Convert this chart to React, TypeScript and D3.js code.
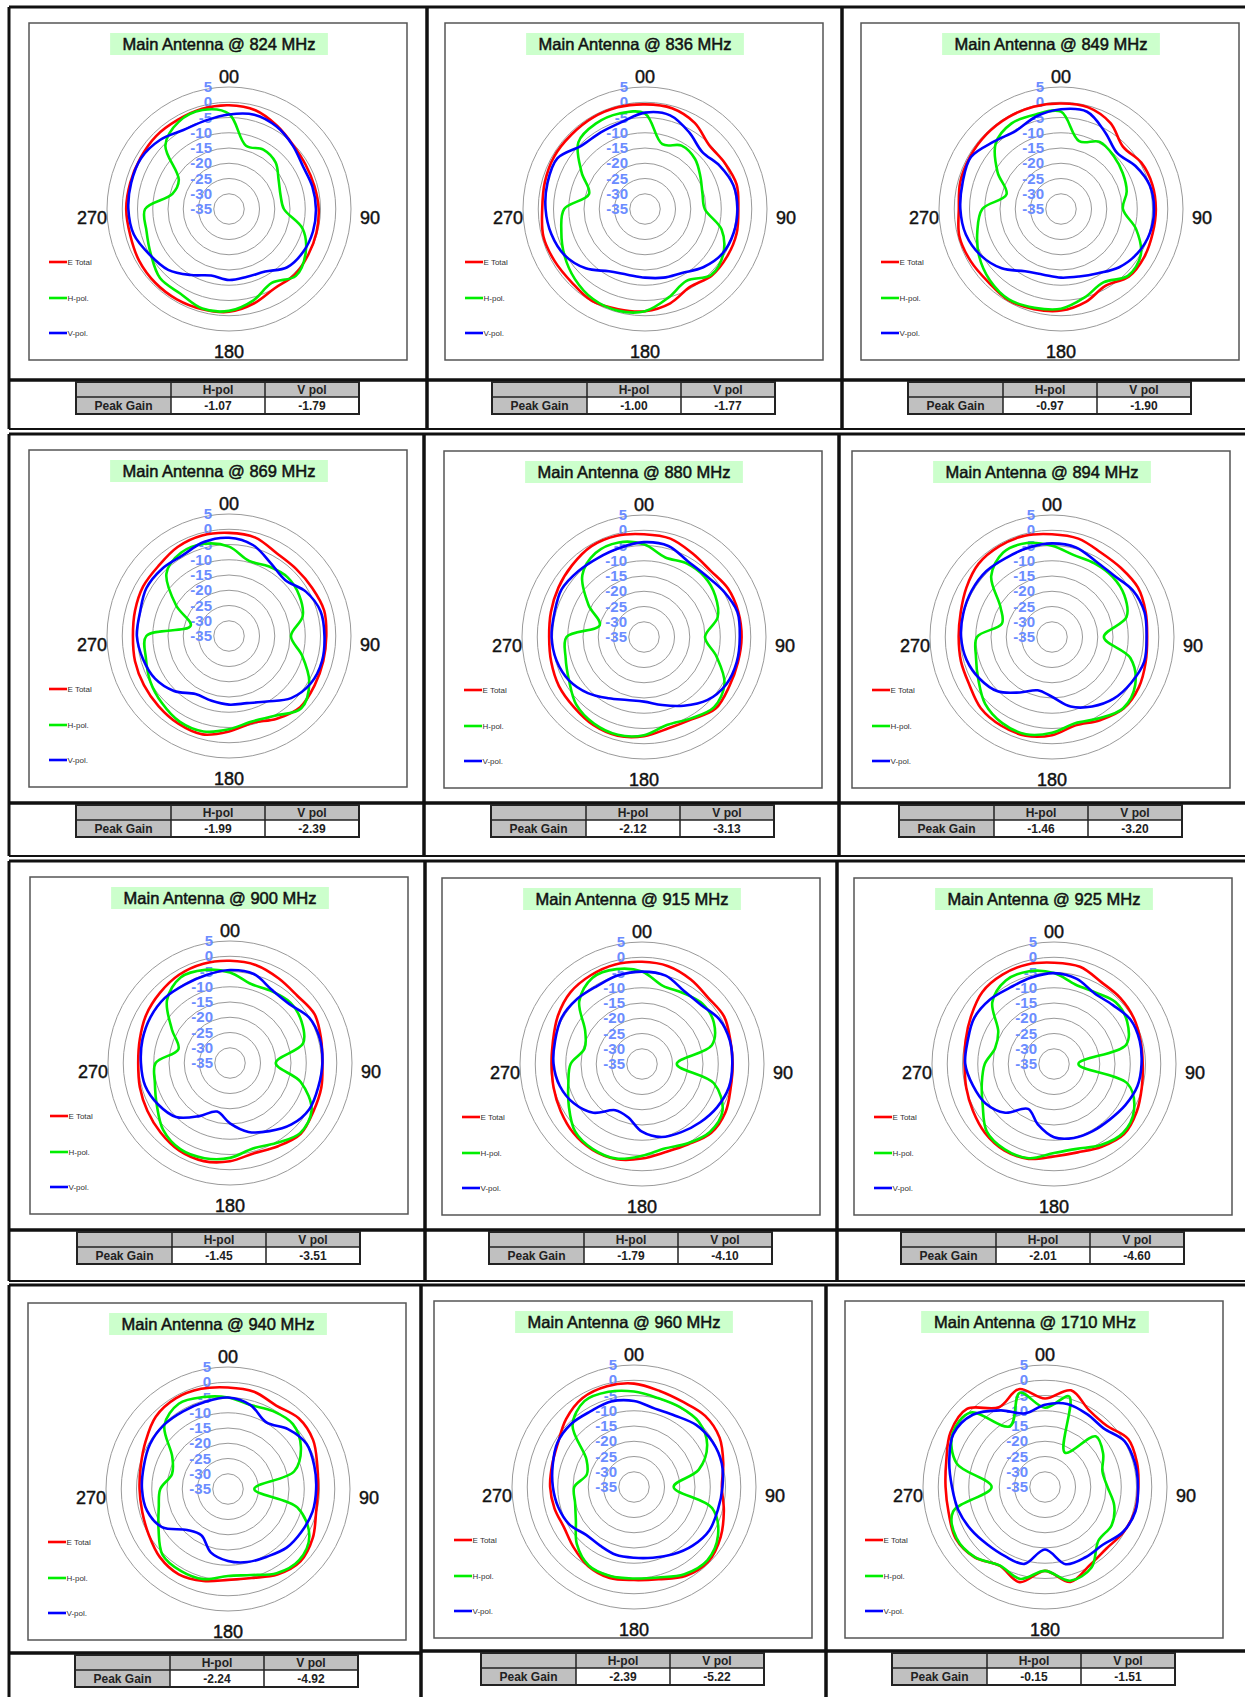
import React from 'react';
import * as d3 from 'd3';

// ---------- data ----------
const ANGLES = [0, 15, 30, 45, 60, 75, 90, 105, 120, 135, 150, 165, 180, 195, 210, 225, 240, 255, 270, 285, 300, 315, 330, 345];
const FREQS = [824, 836, 849, 869, 880, 894, 900, 915, 925, 940, 960, 1710];
const PEAK_H = [-1.07, -1.0, -0.97, -1.99, -2.12, -1.46, -1.45, -1.79, -2.01, -2.24, -2.39, -0.15];
const PEAK_V = [-1.79, -1.77, -1.9, -2.39, -3.13, -3.2, -3.51, -4.1, -4.6, -4.92, -5.22, -1.51];
const RING_TICKS = [5, 0, -5, -10, -15, -20, -25, -30, -35];
const RING_CIRCLES = [5, 0, -5, -10, -15, -20, -25, -30];
const SERIES_NAMES = ['E Total', 'H-pol.', 'V-pol.'];
const TABLE_HEAD = ['', 'H-pol', 'V pol'];
const ROW_LABEL = 'Peak Gain';

const e824 = [-1.0, -1.5, -3.5, -5.3, -6, -6, -5.6, -5.3, -5, -4.5, -5, -3, -1.3, -1, -0.8, -0.8, -1, -1.5, -1.3, -1.5, -1.5, -1.2, -1.3, -1];
const h824 = [-3.8, -13.5, -12.5, -13.4, -16.2, -17.5, -17, -10, -6, -4, -7, -4, -1.6, -1.2, -3, -3, -5.4, -7, -7.5, -15.8, -16, -5.5, -2, -1.4];
const v824 = [-4, -3, -3.8, -5.5, -7, -6.7, -6.5, -6.5, -6.9, -8, -11.3, -12, -11.7, -12.4, -10, -6.8, -5, -2.7, -2, -1.8, -1.7, -3, -5.1, -5];

const e836 = [-0.7, -0.8, -2.4, -5.3, -4.8, -3.9, -4.4, -3.9, -3.9, -4.1, -5.5, -3, -1.5, -1, -0.2, -1, -0.8, -0.5, -1.3, -1, -0.6, -0.7, -0.5, -0.5];
const h836 = [-3.7, -13, -11, -11.8, -14, -15.5, -15.4, -9, -5.4, -4.4, -7.8, -5, -1.5, -0.5, -0.9, -2.5, -4.5, -6.6, -8.5, -16, -11, -4.1, -2.7, -2.6];
const v836 = [-3.4, -3.2, -6, -8.5, -6.7, -5, -4.7, -4.9, -5.7, -8, -10.8, -11.7, -12.5, -12.7, -11.4, -7.5, -4.6, -3.2, -2.4, -1.9, -1.8, -5.6, -6, -5.5];

const e849 = [-0.4, -0.5, -2.5, -6.2, -4.6, -4, -3.9, -3.9, -3.5, -3.6, -5.9, -3.5, -1.7, -1, -0.5, -1.2, -0.8, -0.5, -1.5, -0.8, -0.6, -0.4, -0.3, -0.3];
const h849 = [-3.1, -12, -9.6, -10.5, -11.6, -12.7, -14.7, -9.5, -4.8, -4, -7.2, -5, -2.3, -1.5, -0.8, -2, -4, -6.6, -9.2, -16.5, -11, -4.7, -2.6, -2.9];
const v849 = [-2.3, -2, -6, -9, -6.8, -4.9, -4.5, -4.8, -6, -8, -10.7, -12.1, -12.5, -12.7, -11.4, -7.5, -4.6, -2.7, -2, -1.6, -0.9, -3.8, -5.4, -3.6];

const e869 = [-1.2, -1.6, -3.7, -3.9, -3.5, -2.7, -3.1, -3, -2.6, -2, -3.7, -5.5, -3.7, -1.6, -1.8, -2.4, -2.8, -3.1, -3.5, -3.1, -2.5, -2.4, -1.3, -0.9];
const h869 = [-5.7, -9.5, -8.7, -7.8, -8.4, -10, -14.7, -10.2, -4.6, -1.5, -4.8, -6, -4.4, -2.6, -2.6, -3.9, -5.2, -6.8, -7.9, -22, -15, -6, -3.5, -3.7];
const v869 = [-2.8, -4.2, -7.5, -9, -5.9, -3.9, -3.7, -3.4, -4, -6.2, -10.2, -12.2, -12.5, -13, -13, -9.5, -7, -5.8, -4.8, -4.8, -3.7, -3.9, -4.5, -3.1];

const e880 = [-1.3, -1.6, -3.3, -4.2, -3.2, -3, -3, -3.1, -2.7, -1.8, -3.8, -4, -2.5, -1.5, -1.7, -2.5, -2.8, -3.5, -3.9, -3.4, -2.6, -1.7, -0.6, -0.6];
const h880 = [-4.6, -8, -7.1, -7, -8, -10, -15, -10.4, -4.5, -2.5, -4.2, -5.2, -2.8, -1.8, -2.2, -3.6, -6.6, -8.4, -9.6, -20, -14, -6.4, -3.2, -2.9];
const v880 = [-3.9, -4.1, -6.3, -6.4, -4.9, -3.3, -3.6, -3.5, -3.9, -5.7, -9, -11.9, -13.8, -13.6, -11.8, -9, -6.6, -5.3, -4.7, -4.6, -3.8, -4.5, -5, -4.7];

const e894 = [-1.3, -1.6, -3, -3, -2.5, -3.2, -3.8, -3.2, -2.1, -1.8, -3.5, -5, -2.8, -1.5, -1.5, -2, -3.7, -4.1, -4.4, -4, -2.6, -1, -0.6, -0.6];
const h894 = [-5.1, -7.2, -7.1, -7, -7.6, -9.7, -18, -8.4, -3.5, -2, -4.2, -5.7, -3.6, -2, -2.4, -4, -7.1, -9.2, -10.4, -18, -15.5, -6.8, -3, -3.1];
const v894 = [-4.3, -4.6, -6.3, -6.4, -4.4, -3.6, -4, -3.7, -5, -6.4, -8.7, -11.4, -15.4, -16.9, -14, -9.8, -7.6, -6, -5.2, -4.9, -4.6, -4.5, -5, -4.7];

const e900 = [-1.5, -1.8, -3, -3.8, -3, -4.1, -4.7, -4, -3.4, -2.2, -3.5, -4.4, -2.8, -1.7, -1.8, -2.8, -3.7, -4.4, -4.9, -4.4, -3.3, -2.5, -1.6, -1.3];
const h900 = [-5.3, -8.2, -7.8, -7, -7.9, -10.2, -20, -11, -4.1, -2.5, -4.7, -6, -3.9, -2.7, -2.4, -4, -7.3, -9.5, -10.6, -17.5, -13, -5.8, -2.6, -3.4];
const v900 = [-4.5, -4.8, -7.4, -7.6, -5.1, -4.5, -4.7, -5, -4.9, -6.5, -9.2, -11.6, -15.2, -18.5, -14.9, -10, -7.8, -6.2, -5.8, -5.3, -4.9, -4.8, -5.3, -5.1];

const e915 = [-1.5, -1.8, -3, -4.3, -3.9, -5, -5.3, -4.9, -3.4, -3, -4.6, -5.1, -4, -2.7, -2.5, -3.1, -4.2, -5, -5.4, -4.8, -3.2, -1.8, -1.4, -1.2];
const h915 = [-4.7, -8.5, -8.1, -7, -7.8, -11.3, -23.6, -10.6, -4.5, -3.5, -5, -6.3, -4.9, -2.9, -2.8, -3.9, -7.3, -10, -11.6, -15.5, -13.5, -5.9, -2.4, -2.8];
const v915 = [-4.7, -5, -7.4, -7.6, -5.7, -5.2, -5.4, -5.5, -6.6, -8, -9.2, -10.2, -12.8, -17, -17.5, -12.4, -9.2, -7.1, -6, -5.5, -4.6, -4.9, -5.5, -4.9];

const e925 = [-1.8, -2, -4, -4.3, -4.8, -5.6, -5.9, -5.2, -3.7, -2.5, -3.7, -5, -4.7, -2.8, -2.3, -3, -4.3, -5.2, -5.7, -5, -3.6, -1.7, -1.2, -1.2];
const h925 = [-5.2, -8, -7.9, -6.4, -7.3, -10.5, -27, -10, -4.7, -3, -4.3, -6.2, -5.8, -3, -2.7, -3.8, -8, -10.5, -12.3, -15, -13.9, -6.4, -3.4, -3.5];
const v925 = [-5.2, -6.1, -8.3, -7.7, -6, -5.9, -6.3, -6.7, -8, -9.2, -9.6, -9.9, -11, -14.5, -18, -12.4, -9.1, -7.5, -5.9, -5.7, -4.8, -5.2, -6.1, -5.7];

const e940 = [-1.7, -2, -3.4, -2.2, -2.8, -4.7, -5.5, -5.1, -2.9, -1.4, -2.6, -4.8, -5.2, -3.8, -2.7, -3.4, -5, -5.9, -6, -5.4, -3.8, -1.5, -0.7, -1];
const h940 = [-5, -6.5, -5.5, -4.9, -7.4, -12.5, -26.4, -11.4, -4.2, -2, -3.1, -5.8, -6.5, -4.4, -4, -4.6, -8.7, -11.5, -12.8, -16, -13.9, -5.5, -2.7, -3.8];
const v940 = [-5, -6.5, -9.8, -7.2, -5.3, -5.7, -6.1, -6.3, -7.1, -7.8, -9.4, -10.2, -11.4, -13.4, -17.5, -16, -10, -7.5, -6.8, -6.4, -5.5, -5.3, -5.6, -5.5];

const e960 = [-1.1, -2.4, -2.8, -2, -2.6, -4.7, -6.2, -4.5, -2.2, -0.5, -1.3, -3.7, -4.5, -4.1, -5, -7, -8.5, -8, -7.5, -7.2, -6.2, -3.5, -1.3, -0.8];
const h960 = [-3.7, -4.8, -4.8, -4.9, -7.3, -13, -22, -8.5, -3.2, -1, -2, -4.3, -5, -4.8, -5.3, -8.5, -13, -15, -15.4, -19, -17, -6.5, -2.5, -2.7];
const v960 = [-6.8, -8.4, -8, -6.2, -5.3, -5.2, -6, -6.5, -6.5, -7.8, -9.5, -11, -11.8, -12, -12.8, -12.8, -10.5, -9.3, -8.4, -7.4, -6, -5.8, -6.4, -6];

const e1710 = [-6, -2.2, -6, -6.5, -3.5, -3.8, -4.4, -4.5, -5.3, -6.5, -5.5, -2.8, -7.5, -2.7, -5.2, -2.4, -1.2, -2.3, -2.4, -1.5, 0.8, 1.2, -4.8, -1.8];
const h1710 = [-9, -4.3, -22, -11.5, -13, -15.5, -14.5, -11.5, -9.8, -10.2, -4.5, -3.2, -7.5, -3.8, -5.3, -2.5, -1.5, -3.8, -17.5, -5, 0, -0.5, -12, -3];
const v1710 = [-8, -6.8, -7.4, -7.8, -4.9, -4.5, -4.5, -4.3, -5.5, -8.2, -8.4, -8.8, -14.5, -8.9, -8.8, -8.3, -7, -5.6, -4.5, -2.5, -0.3, -1.5, -6, -10];

const E_TOTAL = [e824, e836, e849, e869, e880, e894, e900, e915, e925, e940, e960, e1710];
const H_POL = [h824, h836, h849, h869, h880, h894, h900, h915, h925, h940, h960, h1710];
const V_POL = [v824, v836, v849, v869, v880, v894, v900, v915, v925, v940, v960, v1710];

// ---------- layout ----------
const BOX_X = [29, 445, 861, 29, 444, 852, 30, 442, 854, 28, 434, 845];
const BOX_Y = [23, 23, 23, 450, 451, 451, 877, 878, 878, 1303, 1301, 1301];
const MID_Y = [380, 380, 380, 803, 803, 803, 1230, 1230, 1230, 1653, 1651, 1651];
const ROW_TOP = [7, 434, 861, 1285];
const ROW_BOTTOM = [429, 856, 1281, 1710];
const ROW_VERTS = [[9, 427, 842, 1250], [9, 424, 839, 1250], [9, 425, 837, 1250], [9, 421, 826, 1250]];
const BOX_W = 378;
const BOX_H = 337;
const R = 122;
const COLORS = ['#ff0000', '#00ee00', '#0000ff'];

const rScale = d3.scaleLinear().domain([-35, 5]).range([0, R]).clamp(true);
const radial = d3
  .lineRadial<number>()
  .angle((_, i) => (ANGLES[i] * Math.PI) / 180)
  .radius((d) => rScale(d))
  .curve(d3.curveCatmullRomClosed.alpha(0.5));

const FONT = "'Liberation Sans', Arial, sans-serif";
const NARROW = "'Liberation Sans Narrow', 'Liberation Sans', Arial, sans-serif";

function Panel({ i }: { i: number }) {
  const bx = BOX_X[i];
  const by = BOX_Y[i];
  const cx = bx + 200;
  const cy = by + 186;
  const title = `Main Antenna @ ${FREQS[i]} MHz`;
  const tw = title.length * 9.9;
  const tcx = bx + 190;
  const series = [E_TOTAL[i], H_POL[i], V_POL[i]];
  const tx = bx + 47;
  const ty = MID_Y[i] + 2;
  const colW = [95, 94, 94];
  const colX = [tx, tx + colW[0], tx + colW[0] + colW[1]];
  const h1 = 15;
  const h2 = 17;
  const axisStyle = { stroke: '#111', strokeWidth: 0.45 } as const;
  return (
    <g>
      <rect x={bx} y={by} width={BOX_W} height={BOX_H} fill="#fff" stroke="#555" strokeWidth={1.5} />
      <rect x={tcx - tw / 2} y={by + 10} width={tw} height={22} fill="#ccffcc" />
      <text x={tcx} y={by + 27} textAnchor="middle" fontFamily={FONT} fontSize={16.5} fill="#111" stroke="#111" strokeWidth={0.5}>
        {title}
      </text>
      {RING_CIRCLES.map((v) => (
        <circle key={v} cx={cx} cy={cy} r={rScale(v)} fill="none" stroke="#9a9a9a" strokeWidth={1} />
      ))}
      {RING_TICKS.map((v) => (
        <text key={v} x={cx - 17} y={cy - rScale(v) + 5} textAnchor="end" fontFamily={FONT} fontWeight="bold" fontSize={15} fill="#6b8cff">
          {v}
        </text>
      ))}
      <text x={cx} y={cy - 126} textAnchor="middle" fontFamily={NARROW} fontSize={18} fill="#111" {...axisStyle}>00</text>
      <text x={cx + 141} y={cy + 15} textAnchor="middle" fontFamily={NARROW} fontSize={18} fill="#111" {...axisStyle}>90</text>
      <text x={cx} y={cy + 149} textAnchor="middle" fontFamily={NARROW} fontSize={18} fill="#111" {...axisStyle}>180</text>
      <text x={cx - 137} y={cy + 15} textAnchor="middle" fontFamily={NARROW} fontSize={18} fill="#111" {...axisStyle}>270</text>
      <g transform={`translate(${cx},${cy})`}>
        {series.map((s, k) => (
          <path key={k} d={radial(s) || ''} fill="none" stroke={COLORS[k]} strokeWidth={2.6} strokeLinejoin="round" />
        ))}
      </g>
      {SERIES_NAMES.map((n, k) => {
        const ly = cy + [53, 89, 124][k];
        return (
          <g key={n}>
            <line x1={bx + 20} x2={bx + 38} y1={ly} y2={ly} stroke={COLORS[k]} strokeWidth={2.6} />
            <text x={bx + 38.5} y={ly + 3} fontFamily={FONT} fontSize={8} fill="#333">{n}</text>
          </g>
        );
      })}
      {/* table */}
      <rect x={colX[0]} y={ty} width={colW[0] + colW[1] + colW[2]} height={h1} fill="#c0c0c0" />
      <rect x={colX[0]} y={ty + h1} width={colW[0]} height={h2} fill="#c0c0c0" />
      <rect x={colX[1]} y={ty + h1} width={colW[1] + colW[2]} height={h2} fill="#fff" />
      {[1, 2].map((c) => (
        <line key={c} x1={colX[c]} x2={colX[c]} y1={ty} y2={ty + h1 + h2} stroke="#222" strokeWidth={1.5} />
      ))}
      <line x1={colX[0]} x2={colX[0] + 283} y1={ty + h1} y2={ty + h1} stroke="#222" strokeWidth={1.5} />
      <rect x={colX[0]} y={ty} width={283} height={h1 + h2} fill="none" stroke="#222" strokeWidth={2} />
      {TABLE_HEAD.map((t, c) => (
        <text key={c} x={colX[c] + colW[c] / 2} y={ty + 12} textAnchor="middle" fontFamily={FONT} fontWeight="bold" fontSize={12} fill="#222">
          {t}
        </text>
      ))}
      <text x={colX[0] + colW[0] / 2} y={ty + h1 + 13} textAnchor="middle" fontFamily={FONT} fontWeight="bold" fontSize={12} fill="#222">
        {ROW_LABEL}
      </text>
      <text x={colX[1] + colW[1] / 2} y={ty + h1 + 13} textAnchor="middle" fontFamily={FONT} fontWeight="bold" fontSize={12} fill="#222">
        {PEAK_H[i].toFixed(2)}
      </text>
      <text x={colX[2] + colW[2] / 2} y={ty + h1 + 13} textAnchor="middle" fontFamily={FONT} fontWeight="bold" fontSize={12} fill="#222">
        {PEAK_V[i].toFixed(2)}
      </text>
    </g>
  );
}

function Frames() {
  const els: React.ReactNode[] = [];
  ROW_TOP.forEach((top, r) => {
    const verts = ROW_VERTS[r];
    const bottom = ROW_BOTTOM[r];
    els.push(<line key={`t${r}`} x1={verts[0]} x2={1245} y1={top} y2={top} stroke="#111" strokeWidth={3} />);
    if (r < 3) els.push(<line key={`b${r}`} x1={verts[0]} x2={1245} y1={bottom} y2={bottom} stroke="#111" strokeWidth={2} />);
    for (let c = 0; c < 3; c++) {
      const i = r * 3 + c;
      els.push(<line key={`m${i}`} x1={verts[c]} x2={verts[c + 1]} y1={MID_Y[i]} y2={MID_Y[i]} stroke="#111" strokeWidth={3.5} />);
    }
    verts.slice(0, 3).forEach((x, c) => {
      els.push(<line key={`v${r}${c}`} x1={x} x2={x} y1={top} y2={bottom} stroke="#111" strokeWidth={c === 0 ? 3 : 3.5} />);
    });
  });
  return <g>{els}</g>;
}

export default function App() {
  return (
    <div style={{ position: 'absolute', left: 0, top: 0, width: 1245, height: 1697, background: '#fff' }}>
      <svg width={1245} height={1697} viewBox="0 0 1245 1697" style={{ display: 'block' }}>
        <rect x={0} y={0} width={1245} height={1697} fill="#fff" />
        <Frames />
        {FREQS.map((_, i) => (
          <Panel key={i} i={i} />
        ))}
      </svg>
    </div>
  );
}
